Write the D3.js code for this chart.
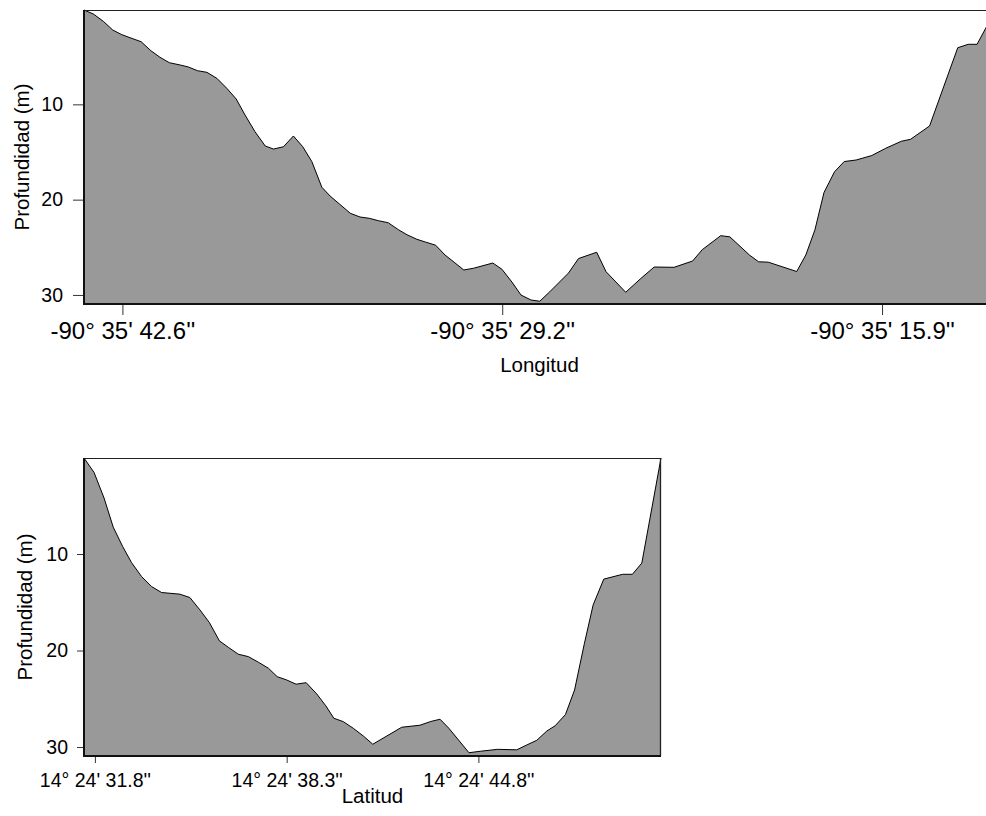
<!DOCTYPE html>
<html>
<head>
<meta charset="utf-8">
<script src="https://cdn.jsdelivr.net/npm/d3@7"></script>
<style>
  html, body { margin: 0; padding: 0; background: #fff; overflow: hidden; }
  svg { display: block; font-family: "Liberation Sans", Arial, Helvetica, sans-serif; }
</style>
</head>
<body>
<svg id="chart" width="986" height="816"></svg>
<script>
// Longitudinal transect: seconds of arc within -90° 35', and depth (m)
const lonSeconds = [43.95, 43.62, 43.27, 42.94, 42.62, 42.33, 41.94, 41.60, 41.28, 40.95,
  40.57, 40.28, 39.96, 39.63, 39.28, 38.93, 38.60, 38.29, 37.94, 37.58,
  37.29, 36.94, 36.59, 36.26, 35.94, 35.59, 35.30, 34.59, 34.25, 33.92,
  33.60, 33.26, 32.90, 32.60, 32.25, 31.96, 31.59, 31.26, 30.94, 30.60,
  30.26, 29.58, 29.26, 28.91, 28.59, 28.24, 27.93, 27.58, 26.92, 26.57,
  25.93, 25.60, 24.91, 24.40, 23.91, 23.21, 22.56, 22.22, 21.57, 21.25,
  20.56, 20.24, 19.90, 18.90, 18.58, 18.26, 17.94, 17.57, 17.23, 16.81,
  16.26, 15.77, 15.22, 14.90, 14.23, 13.24, 12.87, 12.56, 12.24, 11.93];
const lonDepth = [0.1, 0.52, 1.29, 2.2, 2.69, 3.01, 3.43, 4.37, 5.06, 5.63,
  5.87, 6.08, 6.47, 6.64, 7.27, 8.32, 9.44, 11.12, 12.87, 14.37,
  14.69, 14.45, 13.32, 14.45, 16.02, 18.70, 19.62, 21.43, 21.82, 21.96,
  22.21, 22.42, 23.15, 23.68, 24.16, 24.44, 24.78, 25.81, 26.57, 27.38,
  27.20, 26.65, 27.31, 28.64, 30.01, 30.53, 30.66, 29.67, 27.70, 26.18,
  25.52, 27.56, 29.72, 28.33, 27.07, 27.10, 26.44, 25.25, 23.78, 23.90,
  25.81, 26.52, 26.56, 27.54, 25.81, 23.18, 19.25, 17.07, 16.00, 15.84,
  15.37, 14.61, 13.87, 13.67, 12.27, 4.06, 3.70, 3.70, 1.92, 0.1];

// Latitudinal transect: seconds of arc within 14° 24', and depth (m)
const latSeconds = [31.43, 31.77, 32.11, 32.42, 32.74, 33.04, 33.38, 33.72, 34.06, 34.68,
  35.02, 35.36, 35.68, 36.02, 36.32, 36.66, 37.00, 37.34, 37.68, 37.98,
  38.30, 38.62, 38.96, 39.32, 39.63, 39.90, 40.22, 40.56, 40.90, 41.22,
  42.20, 42.82, 43.19, 43.50, 43.80, 44.48, 44.86, 45.45, 46.10, 46.44,
  46.78, 47.12, 47.40, 47.75, 48.06, 48.39, 48.69, 49.05, 49.69, 50.02,
  50.34, 50.99];
const latDepth = [0.05, 1.54, 4.20, 7.21, 9.22, 10.88, 12.33, 13.37, 13.99, 14.16,
  14.51, 15.79, 17.10, 19.00, 19.66, 20.38, 20.63, 21.21, 21.83, 22.71,
  23.05, 23.49, 23.33, 24.50, 25.74, 27.02, 27.37, 28.06, 28.86, 29.71,
  27.95, 27.74, 27.35, 27.12, 28.06, 30.59, 30.44, 30.24, 30.29, 29.79,
  29.30, 28.34, 27.80, 26.64, 24.09, 19.31, 15.27, 12.60, 12.10, 12.10,
  10.94, 0.05];

// Axis ticks
const depthTicks = [10, 20, 30];
const lonTickSeconds = [42.6, 29.25, 15.9];
const lonTickLabels = ["-90° 35' 42.6''", "-90° 35' 29.2''", "-90° 35' 15.9''"];
const latTickSeconds = [31.8, 38.3, 44.8];
const latTickLabels = ["14° 24' 31.8''", "14° 24' 38.3''", "14° 24' 44.8''"];

const svg = d3.select("#chart");

function profile(cfg) {
  const data = cfg.sec.map((s, i) => ({ s: s, d: cfg.depth[i] }));
  const x = d3.scaleLinear().domain(cfg.xDomain).range([cfg.left, cfg.right]);
  const y = d3.scaleLinear().domain(cfg.yDomain).range([cfg.top, cfg.bottom]);
  const g = svg.append("g");

  // filled cross-section below the bottom profile
  g.append("path")
    .datum(data)
    .attr("fill", "#999999")
    .attr("d", d3.area().x(p => x(p.s)).y0(cfg.bottom).y1(p => y(p.d)));
  g.append("path")
    .datum(data)
    .attr("fill", "none")
    .attr("stroke", "#000")
    .attr("stroke-width", 1)
    .attr("stroke-linejoin", "round")
    .attr("d", d3.line().x(p => x(p.s)).y(p => y(p.d)));

  // frame
  g.append("line").attr("x1", cfg.left).attr("x2", cfg.right).attr("y1", cfg.top + 0.5).attr("y2", cfg.top + 0.5)
    .attr("stroke", "#222").attr("stroke-width", 1);
  g.append("line").attr("x1", cfg.right - 0.5).attr("x2", cfg.right - 0.5).attr("y1", cfg.top).attr("y2", cfg.bottom)
    .attr("stroke", "#222").attr("stroke-width", 1.3);

  // depth axis
  const ya = g.append("g")
    .attr("transform", `translate(${cfg.left},0)`)
    .call(d3.axisLeft(y).tickValues(depthTicks).tickSize(cfg.tick).tickPadding(cfg.yPad).tickSizeOuter(0));
  ya.select(".domain").remove();
  ya.append("line").attr("x1", 0).attr("x2", 0).attr("y1", cfg.top).attr("y2", cfg.bottom + 1)
    .attr("stroke", "#111").attr("stroke-width", 2);
  ya.selectAll(".tick line").attr("stroke", "#333");
  ya.selectAll(".tick text").attr("fill", "#000").style("font-size", cfg.yFont + "px")
    .style("font-family", "Liberation Sans, Arial, sans-serif");

  // horizontal axis
  const xa = g.append("g")
    .attr("transform", `translate(0,${cfg.bottom})`)
    .call(d3.axisBottom(x).tickValues(cfg.tickSec).tickFormat((d, i) => cfg.tickLab[i])
      .tickSize(cfg.tick).tickPadding(cfg.xPad).tickSizeOuter(0));
  xa.select(".domain").remove();
  xa.append("line").attr("x1", cfg.left - 1).attr("x2", cfg.right).attr("y1", 0).attr("y2", 0)
    .attr("stroke", "#111").attr("stroke-width", 2);
  xa.selectAll(".tick line").attr("stroke", "#333");
  xa.selectAll(".tick text").attr("fill", "#000").style("font-size", cfg.xFont + "px")
    .style("font-family", "Liberation Sans, Arial, sans-serif");

  // axis titles
  g.append("text")
    .attr("x", (cfg.left + cfg.right) / 2).attr("y", cfg.xTitleY)
    .attr("text-anchor", "middle").style("font-size", cfg.titleFont + "px")
    .text(cfg.xTitle);
  g.append("text")
    .attr("transform", `translate(${cfg.yTitleX},${(cfg.top + cfg.bottom) / 2}) rotate(-90)`)
    .attr("text-anchor", "middle").style("font-size", cfg.titleFont + "px")
    .text("Profundidad (m)");
}

profile({
  sec: lonSeconds, depth: lonDepth,
  xDomain: [43.95, 11.93], yDomain: [0.1, 30.95],
  left: 84, right: 995, top: 10, bottom: 304,
  tick: 11, yPad: 10, xPad: 7,
  tickSec: lonTickSeconds, tickLab: lonTickLabels,
  xFont: 24, yFont: 19.5, titleFont: 20.5,
  xTitle: "Longitud", xTitleY: 372, yTitleX: 29
});

profile({
  sec: latSeconds, depth: latDepth,
  xDomain: [31.43, 50.99], yDomain: [0.05, 30.93],
  left: 84, right: 661, top: 458, bottom: 756,
  tick: 7, yPad: 9, xPad: 10,
  tickSec: latTickSeconds, tickLab: latTickLabels,
  xFont: 19.5, yFont: 19.5, titleFont: 20.5,
  xTitle: "Latitud", xTitleY: 803, yTitleX: 32
});
</script>
</body>
</html>
